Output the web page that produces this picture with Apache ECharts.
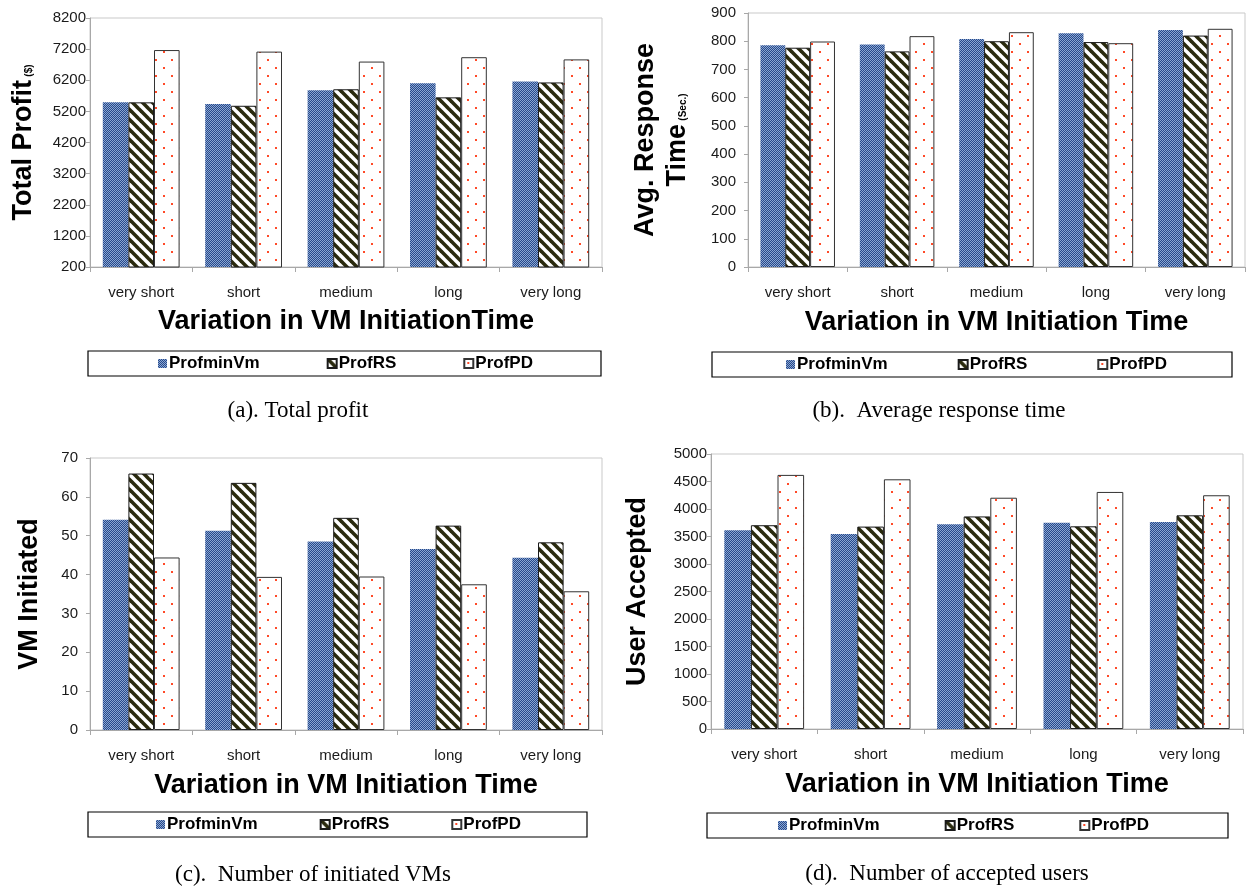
<!DOCTYPE html>
<html>
<head>
<meta charset="utf-8">
<script src="https://cdn.jsdelivr.net/npm/echarts@6/dist/echarts.min.js"></script>
<style>
  html, body {margin: 0; padding: 0; background: #fff;}
  #main {width: 1250px; height: 888px;}
</style>
</head>
<body>
<div id="main"></div>
<script>
// data
var categories = ['very short', 'short', 'medium', 'long', 'very long'];
var seriesNames = ['ProfminVm', 'ProfRS', 'ProfPD'];

var profitMinVm = [5490, 5440, 5880, 6100, 6160];
var profitRS = [5490, 5380, 5910, 5650, 6130];
var profitPD = [7170, 7120, 6800, 6940, 6870];
var profitTicks = [200, 1200, 2200, 3200, 4200, 5200, 6200, 7200, 8200];

var respMinVm = [786, 788, 808, 828, 840];
var respRS = [777, 764, 800, 797, 820];
var respPD = [799, 818, 832, 793, 844];
var respTicks = [0, 100, 200, 300, 400, 500, 600, 700, 800, 900];

var vmMinVm = [54.1, 51.3, 48.5, 46.6, 44.3];
var vmRS = [66.0, 63.6, 54.6, 52.6, 48.3];
var vmPD = [44.4, 39.4, 39.5, 37.5, 35.7];
var vmTicks = [0, 10, 20, 30, 40, 50, 60, 70];

var userMinVm = [3615, 3545, 3725, 3750, 3765];
var userRS = [3705, 3680, 3865, 3685, 3885];
var userPD = [4620, 4540, 4205, 4310, 4250];
var userTicks = [0, 500, 1000, 1500, 2000, 2500, 3000, 3500, 4000, 4500, 5000];

var SANS = '"Liberation Sans", Arial, sans-serif';
var SERIF = '"Liberation Serif", "Times New Roman", serif';

// fill patterns like the old excel hatches
function checkPattern() {
    var c = document.createElement('canvas');
    c.width = 2; c.height = 2;
    var g = c.getContext('2d');
    g.fillStyle = '#27498a';
    g.fillRect(0, 0, 2, 2);
    g.fillStyle = '#8aa6d2';
    g.fillRect(0, 0, 1, 1);
    g.fillRect(1, 1, 1, 1);
    return c;
}

function stripePattern() {
    var c = document.createElement('canvas');
    c.width = 10; c.height = 10;
    var g = c.getContext('2d');
    g.fillStyle = '#ffffff';
    g.fillRect(0, 0, 10, 10);
    g.strokeStyle = '#2a2a0e';
    g.lineWidth = 3.6;
    [-10, 0, 10].forEach(function (o) {
        g.beginPath();
        g.moveTo(o - 2, -2);
        g.lineTo(o + 12, 12);
        g.stroke();
    });
    return c;
}

function dotPattern() {
    var c = document.createElement('canvas');
    c.width = 16; c.height = 16;
    var g = c.getContext('2d');
    g.fillStyle = '#ffffff';
    g.fillRect(0, 0, 16, 16);
    g.fillStyle = '#ff4a28';
    g.fillRect(3, 3, 2, 2);
    g.fillRect(11, 11, 2, 2);
    return c;
}

var fills = [
    {color: {image: checkPattern(), repeat: 'repeat'}, borderColor: '#2a4170', borderWidth: 0},
    {color: {image: stripePattern(), repeat: 'repeat'}, borderColor: '#1a1a1a', borderWidth: 1},
    {color: {image: dotPattern(), repeat: 'repeat'}, borderColor: '#333333', borderWidth: 1}
];

var panels = [
    {
        grid: {left: 90, top: 18, width: 512, height: 249},
        ticks: profitTicks, values: [profitMinVm, profitRS, profitPD], labelMargin: 4,
        yName: '{m|Total Profit} {s|(\$)}', yGap: 50,
        xName: 'Variation in VM InitiationTime', xGap: 41,
        legend: {left: 158, top: 355, gap: 67},
        box: [88, 351, 513, 25],
        caption: {text: '(a). Total profit', x: 298, y: 411}
    },
    {
        grid: {left: 748, top: 13, width: 497, height: 254},
        ticks: respTicks, values: [respMinVm, respRS, respPD], labelMargin: 12,
        yName: '{m|Avg. Response}\n{m|Time} {s|(Sec.)}', yGap: 54,
        xName: 'Variation in VM Initiation Time', xGap: 42,
        legend: {left: 786, top: 356, gap: 70},
        box: [712, 352, 520, 25],
        caption: {text: '(b).  Average response time', x: 939, y: 411}
    },
    {
        grid: {left: 90, top: 458, width: 512, height: 272},
        ticks: vmTicks, values: [vmMinVm, vmRS, vmPD], labelMargin: 12,
        yName: '{m|VM Initiated}', yGap: 44,
        xName: 'Variation in VM Initiation Time', xGap: 42,
        legend: {left: 156, top: 816, gap: 62},
        box: [88, 812, 499, 25],
        caption: {text: '(c).  Number of initiated VMs', x: 313, y: 875}
    },
    {
        grid: {left: 711, top: 454, width: 532, height: 275},
        ticks: userTicks, values: [userMinVm, userRS, userPD], labelMargin: 4,
        yName: '{m|User Accepted}', yGap: 57,
        xName: 'Variation in VM Initiation Time', xGap: 42,
        legend: {left: 778, top: 817, gap: 65},
        box: [707, 813, 521, 25],
        caption: {text: '(d).  Number of accepted users', x: 947, y: 874}
    }
];

var grids = [], xAxes = [], yAxes = [], series = [], legends = [], graphics = [];

panels.forEach(function (p, i) {
    grids.push(Object.assign({show: true, borderColor: '#c9c9c9', borderWidth: 1, containLabel: false}, p.grid));

    xAxes.push({
        type: 'category',
        gridIndex: i,
        data: categories,
        axisLine: {lineStyle: {color: '#a8a8a8'}},
        axisTick: {show: true, length: 5, lineStyle: {color: '#a8a8a8'}},
        axisLabel: {color: '#1a1a1a', fontSize: 15, fontFamily: SANS, margin: 18},
        name: p.xName,
        nameLocation: 'middle',
        nameGap: p.xGap,
        nameTextStyle: {color: '#000', fontSize: 27, fontWeight: 'bold', fontFamily: SANS}
    });

    yAxes.push({
        type: 'value',
        gridIndex: i,
        min: p.ticks[0],
        max: p.ticks[p.ticks.length - 1],
        interval: p.ticks[1] - p.ticks[0],
        splitLine: {show: false},
        axisLine: {show: true, lineStyle: {color: '#a8a8a8'}},
        axisTick: {show: true, length: 4, lineStyle: {color: '#a8a8a8'}},
        axisLabel: {
            color: '#1a1a1a', fontSize: 15, fontFamily: SANS, margin: p.labelMargin,
            formatter: function (v) { return String(v); }
        },
        name: p.yName,
        nameLocation: 'middle',
        nameRotate: 90,
        nameGap: p.yGap,
        nameTextStyle: {
            color: '#000',
            fontFamily: SANS,
            lineHeight: 32,
            rich: {
                m: {fontSize: 27, fontWeight: 'bold', fontFamily: SANS, color: '#000', lineHeight: 32},
                s: {fontSize: 10, fontWeight: 'bold', fontFamily: SANS, color: '#000', verticalAlign: 'bottom', padding: [0, 0, 6, 0]}
            }
        }
    });

    p.values.forEach(function (vals, k) {
        series.push({
            name: seriesNames[k],
            type: 'bar',
            xAxisIndex: i,
            yAxisIndex: i,
            data: vals,
            barGap: '0%',
            barCategoryGap: '25%',
            itemStyle: fills[k],
            emphasis: {disabled: true},
            animation: false
        });
    });

    legends.push({
        left: p.legend.left,
        top: p.legend.top,
        padding: 0,
        itemGap: p.legend.gap,
        itemWidth: 9,
        itemHeight: 9,
        icon: 'rect',
        data: seriesNames,
        textStyle: {color: '#000', fontSize: 17, fontWeight: 'bold', fontFamily: SANS, padding: [0, 0, 0, -3]}
    });

    graphics.push({
        type: 'rect',
        shape: {x: p.box[0], y: p.box[1], width: p.box[2], height: p.box[3]},
        style: {fill: 'none', stroke: '#000', lineWidth: 1.2},
        silent: true
    });
    graphics.push({
        type: 'text',
        x: p.caption.x,
        y: p.caption.y,
        style: {
            text: p.caption.text,
            font: '23px ' + SERIF,
            fill: '#000',
            align: 'center',
            verticalAlign: 'middle'
        },
        silent: true
    });
});

var chart = echarts.init(document.getElementById('main'));
chart.setOption({
    backgroundColor: '#ffffff',
    animation: false,
    grid: grids,
    xAxis: xAxes,
    yAxis: yAxes,
    legend: legends,
    series: series,
    graphic: graphics
});
</script>
</body>
</html>
